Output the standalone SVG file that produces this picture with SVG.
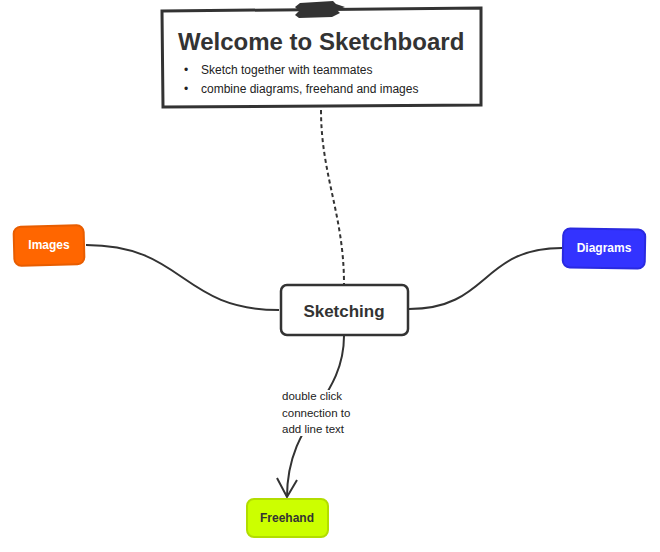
<svg xmlns="http://www.w3.org/2000/svg" width="660" height="552" viewBox="0 0 660 552">
<style>
text{font-family:"Liberation Sans",Arial,sans-serif}
.conn{fill:none;stroke:#333;stroke-width:2}
.title{font-size:24px;font-weight:bold;fill:#333}
.bul{font-size:12px;fill:#222}
.lbl{font-size:12px;font-weight:bold;text-anchor:middle}
.ltext{font-size:11.5px;fill:#222}
</style>
<defs>
<mask id="lblmask" maskUnits="userSpaceOnUse" x="0" y="0" width="660" height="552">
<rect x="0" y="0" width="660" height="552" fill="#fff"/>
<rect x="280" y="390" width="80" height="46" fill="#000"/>
</mask>
</defs>
<rect width="660" height="552" fill="#fff"/>
<g id="connectors">
<path class="conn" d="M321,110 C321,175 344,215 344,284" stroke-dasharray="4,3"/>
<path class="conn" d="M86,245 C185,245 180,310 279,310"/>
<path class="conn" d="M409,309 C490,309 480,248 562,248"/>
<path class="conn" d="M344,336 C344,400 287,420 287,497" mask="url(#lblmask)"/>
<path class="conn" d="M277,478 L287,497 L297,480"/>
<g id="conn-label">
<text class="ltext" x="282" y="400">double click</text>
<text class="ltext" x="282" y="416.5">connection to</text>
<text class="ltext" x="282" y="433">add line text</text>
</g>
</g>
<g id="welcome">
<path d="M162,11 L481,8 L481,105 L163,107 Z" fill="#fff" stroke="#333" stroke-width="3"/>
<path d="M295,7 L300,3 L333,1 L336,4 L345,7 L337,10 L340,13 L332,17 L299,18 L295,15 L299,11 Z" fill="#333"/>
<text class="title" x="178" y="50">Welcome to Sketchboard</text>
<text class="bul" x="184" y="74">•</text>
<text class="bul" x="201" y="74">Sketch together with teammates</text>
<text class="bul" x="184" y="93">•</text>
<text class="bul" x="201" y="93">combine diagrams, freehand and images</text>
</g>
<g id="images">
<rect x="14" y="226" width="70" height="39" rx="7" fill="#FF6600" stroke="#E85D00" stroke-width="2" transform="rotate(-1.5 49 245)"/>
<text class="lbl" x="49" y="249" fill="#fff">Images</text>
</g>
<g id="diagrams">
<rect x="563" y="229" width="82" height="39" rx="7" fill="#3333FF" stroke="#2A2AE0" stroke-width="2" transform="rotate(1 604 248)"/>
<text class="lbl" x="604" y="252" fill="#fff">Diagrams</text>
</g>
<g id="sketching">
<rect x="281" y="285" width="127" height="50" rx="6" fill="#fff" stroke="#333" stroke-width="2.5"/>
<text x="344" y="317" font-size="17" font-weight="bold" fill="#333" text-anchor="middle">Sketching</text>
</g>
<g id="freehand">
<rect x="247" y="499" width="81" height="38" rx="7" fill="#CCFF00" stroke="#B2DD00" stroke-width="2"/>
<text class="lbl" x="287" y="522" fill="#333">Freehand</text>
</g>
</svg>
